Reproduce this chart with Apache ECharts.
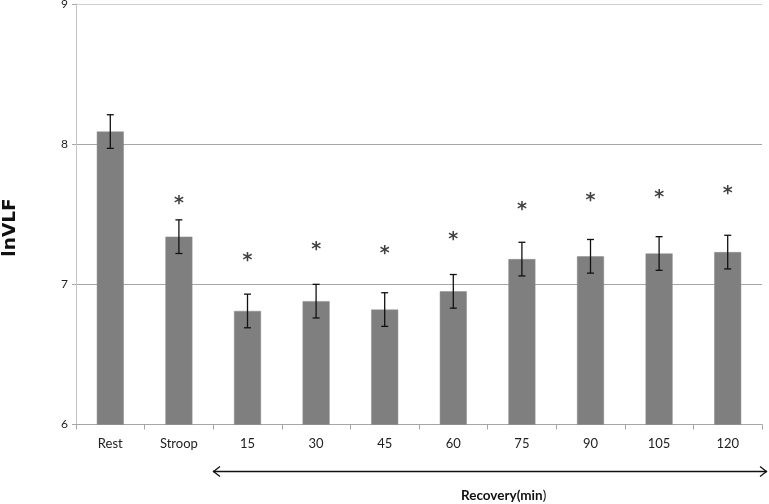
<!DOCTYPE html>
<html>
<head>
<meta charset="utf-8">
<script src="https://cdn.jsdelivr.net/npm/echarts@6/dist/echarts.min.js"></script>
<style>html,body{margin:0;padding:0;background:#fff}#c{width:769px;height:504px}</style>
</head>
<body>
<div id="c"></div>
<script>
const categories = ['Rest','Stroop','15','30','45','60','75','90','105','120'];
const means = [8.09, 7.34, 6.81, 6.88, 6.82, 6.95, 7.18, 7.20, 7.22, 7.23];
const errors = [0.12, 0.12, 0.12, 0.12, 0.12, 0.12, 0.12, 0.12, 0.12, 0.12];
const starY = [null, 7.58, 7.17, 7.25, 7.22, 7.32, 7.54, 7.60, 7.62, 7.65];
const yTicks = [6, 7, 8, 9];

const FONT = 'Lato, "Open Sans", sans-serif';
const chart = echarts.init(document.getElementById('c'), null, {renderer:'canvas'});

const errData = means.map((m,i)=>[i, m - errors[i], m + errors[i]]);
const starData = starY.map((v,i)=> v==null ? null : [i, v]).filter(d=>d);

chart.setOption({
  animation:false,
  backgroundColor:'#fff',
  grid:{left:76, right:7, top:4, bottom:79.5, containLabel:false, outerBoundsMode:'none'},
  xAxis:{
    type:'category', data:categories,
    axisLine:{lineStyle:{color:'#a6a6a6', width:1}},
    axisTick:{show:true, alignWithLabel:false, length:5, lineStyle:{color:'#a6a6a6'}},
    axisLabel:{color:'#222', fontSize:13, fontFamily:FONT, margin:13}
  },
  yAxis:{
    type:'value', min:yTicks[0], max:yTicks[yTicks.length-1], interval:1,
    axisLine:{show:true, lineStyle:{color:'#c4c4c4'}},
    axisTick:{show:true, length:4, lineStyle:{color:'#a6a6a6'}},
    axisLabel:{color:'#222', fontSize:12, fontFamily:FONT, margin:8},
    splitLine:{show:true, lineStyle:{color:['#a6a6a6','#a6a6a6','#a6a6a6','#cfcfcf'], width:1}}
  },
  series:[
    {
      type:'bar', data:means, barWidth:27,
      itemStyle:{color:'#7f7f7f', borderColor:'#8c8c8c', borderWidth:0.5},
      z:2
    },
    {
      type:'custom', data:errData, z:5,
      renderItem:function(params, api){
        const x = api.coord([api.value(0), api.value(1)])[0];
        const yLo = api.coord([api.value(0), api.value(1)])[1];
        const yHi = api.coord([api.value(0), api.value(2)])[1];
        const hw = 3.5;
        const st = {stroke:'#111', lineWidth:1.3};
        return {type:'group', children:[
          {type:'line', shape:{x1:x, y1:yHi, x2:x, y2:yLo}, style:st},
          {type:'line', shape:{x1:x-hw, y1:yHi, x2:x+hw, y2:yHi}, style:st},
          {type:'line', shape:{x1:x-hw, y1:yLo, x2:x+hw, y2:yLo}, style:st}
        ]};
      }
    },
    {
      type:'scatter', data:starData, symbolSize:0.1, z:6,
      itemStyle:{color:'rgba(0,0,0,0)'},
      label:{show:true, position:'inside', formatter:'*', fontSize:19, fontWeight:'bold', fontFamily:'"DejaVu Sans", sans-serif', color:'#111', offset:[0,1]}
    }
  ],
  graphic:[
    {type:'text', x:10.5, y:227.5, rotation:Math.PI/2, style:{
      text:'lnVLF', fontSize:18.5, fontWeight:'bold', fontFamily:'"DejaVu Sans", sans-serif',
      fill:'#111', align:'center', verticalAlign:'middle'
    }},
    {type:'line', shape:{x1:213, y1:471.5, x2:767, y2:471.5}, style:{stroke:'#111', lineWidth:1.3}},
    {type:'polyline', shape:{points:[[220,466.5],[213.5,471.5],[220,476.5]]}, style:{stroke:'#111', lineWidth:1.3, fill:null}},
    {type:'polyline', shape:{points:[[760,466.5],[766.5,471.5],[760,476.5]]}, style:{stroke:'#111', lineWidth:1.3, fill:null}},
    {type:'text', left:461, top:489, style:{
      text:'{b|Recovery(min}{n|)}',
      rich:{
        b:{fontSize:13.5, fontWeight:'bold', fontFamily:FONT, fill:'#111'},
        n:{fontSize:13.5, fontFamily:FONT, fill:'#111'}
      }
    }}
  ]
});
</script>
</body>
</html>
